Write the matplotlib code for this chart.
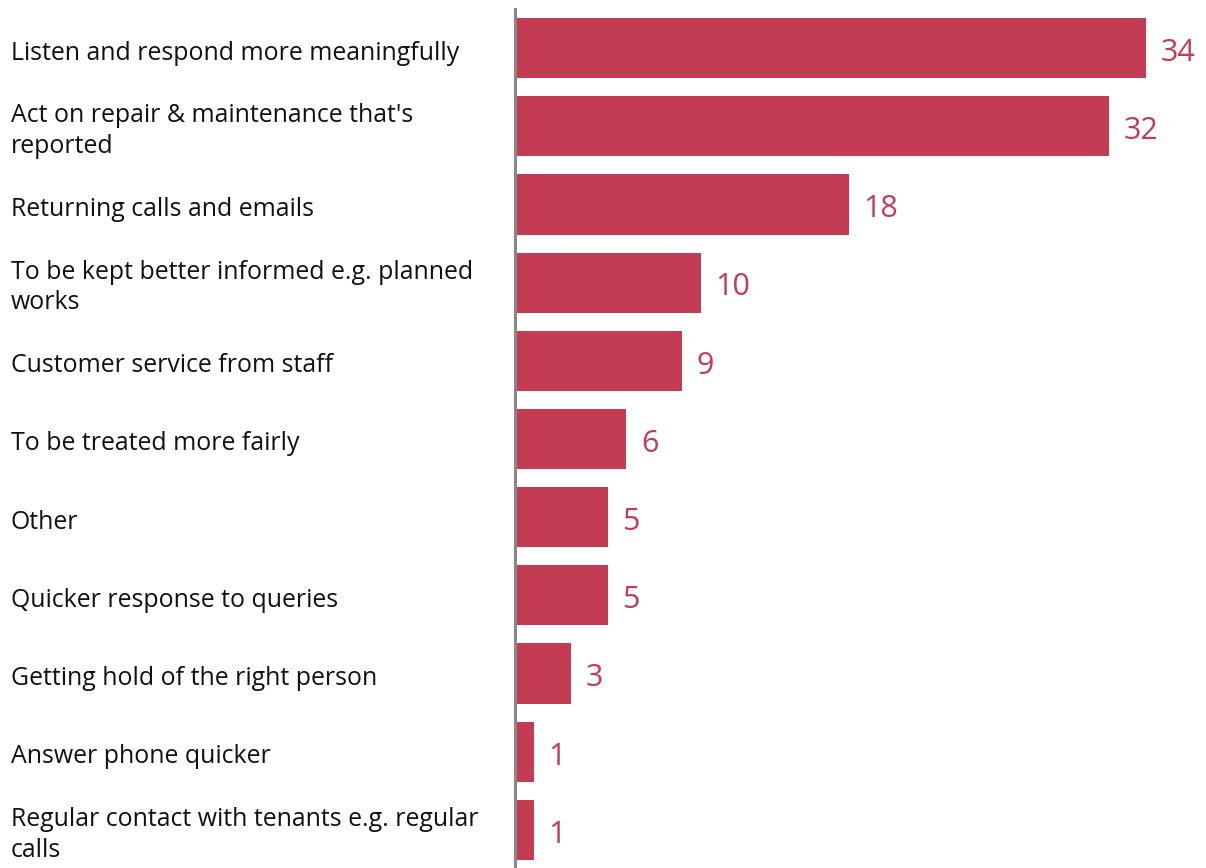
import matplotlib
matplotlib.use("Agg")
import matplotlib.pyplot as plt
from matplotlib.transforms import ScaledTranslation

categories = [
    "Listen and respond more meaningfully",
    "Act on repair & maintenance that's\nreported",
    "Returning calls and emails",
    "To be kept better informed e.g. planned\nworks",
    "Customer service from staff",
    "To be treated more fairly",
    "Other",
    "Quicker response to queries",
    "Getting hold of the right person",
    "Answer phone quicker",
    "Regular contact with tenants e.g. regular\ncalls",
]
values = [34, 32, 18, 10, 9, 6, 5, 5, 3, 1, 1]

BAR_COLOR = "#C33C53"
AXIS_COLOR = "#888888"

plt.rcParams["font.family"] = ["Open Sans", "DejaVu Sans"]

fig = plt.figure(figsize=(12.06, 8.68), dpi=100)
ax = fig.add_axes([515 / 1206, -1 / 868, 1 - 515 / 1206, (868 - 8) / 868])

ypos = list(range(len(categories)))
ax.barh(ypos, values, height=0.77, color=BAR_COLOR)
ax.set_ylim(len(categories) - 0.5, -0.5)
ax.set_xlim(0, 37.25)

# value labels just right of each bar
for y, v in zip(ypos, values):
    ax.annotate(str(v), xy=(v, y), xytext=(10.5, -3.5), textcoords="offset points",
                ha="left", va="center", fontsize=22, color=BAR_COLOR)

# category labels, left-aligned at the figure edge, level with the bars
shift = ScaledTranslation(0, -5 / 100, fig.dpi_scale_trans)
label_tf = matplotlib.transforms.blended_transform_factory(fig.transFigure, ax.transData) + shift
for y, label in zip(ypos, categories):
    fig.text(11 / 1206, y, label, transform=label_tf,
             fontsize=17.9, color="#111111", ha="left", va="center", linespacing=1.3)

for side in ["top", "right", "bottom"]:
    ax.spines[side].set_visible(False)
ax.spines["left"].set_color(AXIS_COLOR)
ax.spines["left"].set_linewidth(2.2)
ax.set_xticks([])
ax.set_yticks([])

fig.savefig("out.png", dpi=100)
